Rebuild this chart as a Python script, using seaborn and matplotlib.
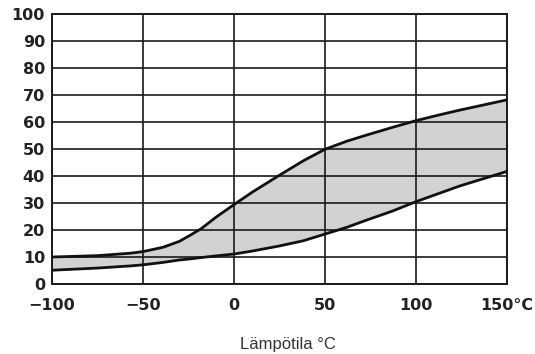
import matplotlib.pyplot as plt
import pandas as pd
import seaborn as sns

# values
temps = [-100, -75, -57, -50, -39, -30, -24, -18, -10, 0, 10, 25, 38, 50,
         62, 73, 87, 100, 112, 124, 137, 150]
upper = [10.0, 10.5, 11.4, 12.0, 13.6, 15.8, 18.1, 20.5, 24.7, 29.4, 34.0, 40.3, 45.6, 49.9,
         52.9, 55.2, 58.0, 60.5, 62.5, 64.4, 66.3, 68.2]
lower = [5.1, 5.9, 6.7, 7.1, 8.0, 8.9, 9.3, 9.8, 10.4, 11.1, 12.2, 14.1, 16.0, 18.5,
         21.0, 23.7, 27.0, 30.5, 33.4, 36.3, 39.0, 41.7]

x_ticks = [-100, -50, 0, 50, 100, 150]
x_labels = ["\u2212100", "\u221250", "0", "50", "100", "150\u00b0C"]
y_ticks = list(range(0, 101, 10))
x_title = "Lämpötila °C"

df = pd.DataFrame({"temp": temps, "upper": upper, "lower": lower})
long_df = df.melt(id_vars="temp", var_name="edge", value_name="value")

sns.set_style("white")
plt.rcParams["font.family"] = ["DejaVu Sans"]

fig = plt.figure(figsize=(5.35, 3.54), dpi=100)
ax = fig.add_axes([52 / 535, 1 - 284 / 354, 455 / 535, 270 / 354])

ax.fill_between(df["temp"], df["lower"], df["upper"], color="#d2d2d2", lw=0, zorder=1)
sns.lineplot(
    data=long_df,
    x="temp",
    y="value",
    units="edge",
    estimator=None,
    color="#111111",
    lw=2.0,
    ax=ax,
    zorder=3,
)

ax.set_xlim(-100, 150)
ax.set_ylim(0, 100)
ax.set_xticks(x_ticks)
ax.set_xticklabels(x_labels, fontsize=11.5, fontweight="bold", color="#222222")
ax.set_yticks(y_ticks)
ax.set_yticklabels([str(v) for v in y_ticks], fontsize=11.5, fontweight="bold", color="#222222")
ax.tick_params(axis="both", length=0)
ax.tick_params(axis="x", pad=10)
ax.tick_params(axis="y", pad=5)

ax.set_axisbelow(False)
ax.grid(True, color="#1a1a1a", lw=1.2)
for spine in ax.spines.values():
    spine.set_color("#1a1a1a")
    spine.set_linewidth(1.4)

ax.set_xlabel("")
ax.set_ylabel("")
fig.text(288 / 535, 1 - 345 / 354, x_title, ha="center", va="center",
         fontsize=12, family="Liberation Sans", color="#333333")

fig.savefig("out.png", dpi=100)
